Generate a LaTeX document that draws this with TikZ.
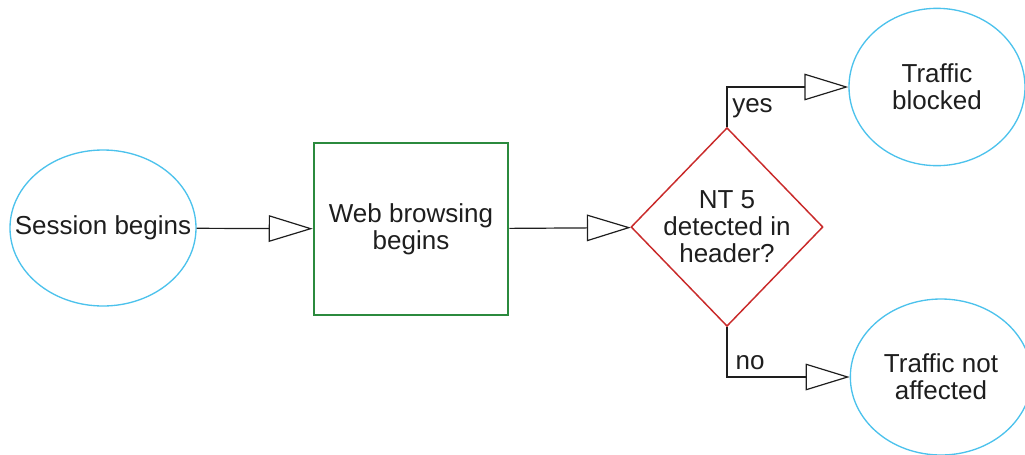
\documentclass[tikz,border=0pt]{standalone}
\usepackage{fontspec}
\setmainfont{Liberation Sans}
\usetikzlibrary{arrows.meta}
\usetikzlibrary{shapes.geometric}

\definecolor{skyline}{HTML}{4CC2EC}
\definecolor{leafline}{HTML}{2B8A3E}
\definecolor{alertline}{HTML}{C92A2A}
\definecolor{inkline}{HTML}{1E1E1E}

\begin{document}
\begin{tikzpicture}[x=0.75pt, y=-0.75pt, font=\fontsize{19.5}{20.2}\selectfont, text=inkline]
\tikzstyle{terminal} = [ ellipse, draw=skyline, line width=1pt, inner sep=0pt, minimum width=132pt, minimum height=118pt, align=center ]
\tikzstyle{block} = [ rectangle, draw=leafline, line width=1.4pt, inner sep=0pt, minimum width=146pt, minimum height=129pt, align=center ]
\tikzstyle{decision} = [ diamond, aspect=1, draw=alertline, line width=1.1pt, inner sep=-2.5pt, minimum width=144pt, minimum height=149pt, align=center ]
\tikzstyle{line} = [ draw=inkline, line width=0.9pt, -{Triangle[open, length=33pt, width=20pt]} ]
\tikzstyle{tag} = [ inner sep=2pt ]
\useasboundingbox (0,0) rectangle (1025,454);
% place nodes
\node [terminal, minimum width=139.5pt, minimum height=117pt, inner xsep=-17pt] (init) at (103,228) {Session begins} ;
\node [block] (browse) at (411,229) {Web browsing\\begins} ;
\node [decision] (decision-1) at (727,227) {NT 5\\detected in\\header?} ;
\node [terminal] (blocked) at (937,87) {Traffic\\blocked} ;
\node [terminal, minimum width=136pt, minimum height=117pt] (passed) at (941,377) {Traffic not\\affected} ;

% draw edges
\path [line] (init) -- (browse) ;
\path [line] (browse) -- (decision-1) ;
\path [line] (decision-1) |- node [tag, pos=0.5, anchor=north west, xshift=1.5pt, yshift=-6pt] {yes} (blocked) ;
\path [line] (decision-1) |- node [tag, pos=0.5, anchor=south west, xshift=4pt, yshift=3pt] {no} (passed) ;

\end{tikzpicture}
\end{document}
